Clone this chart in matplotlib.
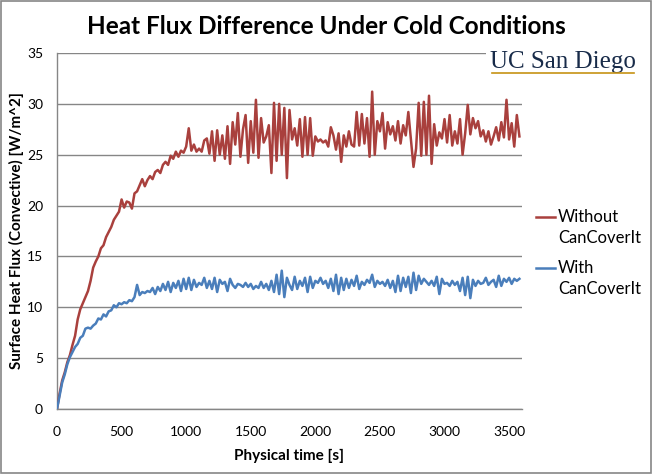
import numpy as np
import matplotlib
matplotlib.use("Agg")
import matplotlib.pyplot as plt
from matplotlib.lines import Line2D
from matplotlib.patches import Rectangle

# surface heat flux [W/m^2], one value every 20 s starting at t = 0
without_cover = [
    0, 1.5, 2.8, 3.6, 4.6, 5.3, 6.3, 7.2, 8.8, 9.8,
    10.4, 11.0, 11.6, 12.6, 13.9, 14.5, 15.0, 15.8, 16.1, 16.9,
    17.4, 17.9, 18.6, 19.0, 19.4, 20.6, 19.8, 20.4, 20.3, 19.7,
    21.2, 21.4, 22.0, 22.6, 21.9, 22.5, 22.9, 22.6, 23.3, 23.5,
    23.2, 24.0, 24.3, 24.0, 24.9, 24.6, 25.3, 24.8, 25.4, 25.2,
    25.8, 27.6, 25.4, 26.0, 25.3, 25.6, 25.3, 26.4, 26.6, 25.1,
    27.3, 24.4, 27.4, 25.0, 26.9, 24.6, 27.8, 24.1, 28.2, 26.0,
    29.1, 24.8, 27.5, 28.9, 24.2, 28.3, 25.2, 30.4, 24.7, 28.6,
    26.2, 26.8, 27.9, 23.2, 30.1, 24.4, 30.0, 25.0, 29.6, 22.7,
    29.4, 26.5, 27.6, 25.9, 28.5, 24.8, 28.7, 25.0, 28.6, 24.9,
    26.8, 26.3, 26.5, 26.2, 26.4, 25.8, 27.7, 26.9, 25.5, 27.1,
    24.3, 26.9, 25.8, 27.3, 26.0, 25.8, 29.2, 25.9, 29.0, 26.1,
    28.6, 24.8, 31.2, 25.0, 28.3, 27.3, 29.1, 25.6, 28.2, 27.0,
    27.8, 26.4, 28.3, 26.1, 27.9, 26.9, 29.2, 26.5, 23.8, 25.6,
    30.1, 24.9, 30.2, 25.0, 30.8, 24.1, 28.0, 25.9, 27.2, 26.6,
    28.5, 26.2, 28.9, 25.9, 27.3, 26.1, 28.5, 25.0, 27.1, 29.9,
    27.0, 28.6, 27.6, 28.3, 26.8, 27.4, 26.3, 27.3, 26.0, 26.8,
    27.7, 26.4, 28.2, 26.7, 30.4, 26.5, 28.1, 25.8, 28.9, 26.8,
]
with_cover = [
    0, 1.3, 2.6, 3.4, 4.4, 5.1, 5.6, 6.1, 6.4, 7.0,
    7.2, 7.9, 8.0, 7.9, 8.2, 8.4, 8.9, 8.8, 9.3, 9.1,
    9.6, 9.7, 10.2, 10.0, 10.4, 10.3, 10.5, 10.4, 10.7, 10.6,
    11.0, 12.2, 11.2, 11.5, 11.4, 11.6, 11.5, 11.9, 11.3, 12.0,
    11.6, 12.3, 11.7, 12.5, 11.5, 12.4, 11.9, 12.6, 11.6, 12.8,
    11.8, 12.9, 11.7, 12.7, 12.0, 12.4, 12.2, 12.9, 11.9, 12.6,
    11.8, 12.9, 11.5, 12.7, 12.3, 12.5, 11.6, 12.8, 12.2, 11.9,
    12.3, 12.2, 12.0, 12.4, 12.0, 12.3, 11.8, 12.1, 11.9, 12.5,
    11.9, 12.3, 11.7, 12.6, 11.5, 13.2, 11.3, 13.6, 11.0, 12.9,
    12.2, 11.7, 13.0, 11.8, 12.6, 12.1, 12.9, 11.5, 13.0, 11.9,
    12.6, 12.4, 12.9, 12.3, 12.6, 11.9, 12.8, 11.6, 13.2, 11.3,
    12.9, 11.7, 12.8, 11.9, 12.7, 12.1, 13.1, 11.8, 12.5, 12.2,
    12.7, 12.4, 13.2, 12.0, 12.6, 12.3, 12.5, 12.1, 12.7, 11.9,
    12.6, 11.5, 13.1, 11.6, 12.9, 12.0, 13.0, 11.4, 13.4, 11.7,
    13.1, 12.3, 12.8, 12.5, 12.2, 12.6, 12.1, 13.0, 11.3, 12.8,
    12.3, 12.4, 12.1, 12.6, 12.2, 12.5, 11.6, 12.9, 11.2, 13.0,
    10.9, 12.7, 12.1, 12.6, 12.3, 12.4, 12.9, 12.2, 12.5, 12.7,
    12.0, 13.1, 12.1, 12.8, 12.5, 12.9, 12.3, 12.8, 12.6, 12.8,
]
time_s = np.arange(len(without_cover)) * 20
series_names = [('Without', 'CanCoverIt'), ('With', 'CanCoverIt')]

plt.rcParams['font.family'] = ['Lato', 'DejaVu Sans']

W, H = 652, 474
fig = plt.figure(figsize=(W / 100, H / 100), dpi=100, facecolor='w')
ax = fig.add_axes([57 / W, 1 - 409 / H, (522 - 57) / W, (409 - 53) / H])

red = '#A9403D'
blue = '#4A7EBB'
grid_c = '#868686'

ax.plot(time_s, without_cover, color=red, lw=1.8, zorder=3)
ax.plot(time_s, with_cover, color=blue, lw=1.8, zorder=3)

ax.set_xlim(0, 3600)
ax.set_ylim(0, 35)
ax.set_xticks(np.arange(0, 3501, 500))
ax.set_yticks(np.arange(0, 36, 5))
ax.yaxis.grid(True, color=grid_c, lw=1)
ax.set_axisbelow(True)
for s in ['top', 'right']:
    ax.spines[s].set_visible(False)
for s in ['left', 'bottom']:
    ax.spines[s].set_color(grid_c)
    ax.spines[s].set_linewidth(1)
ax.tick_params(length=0, labelsize=10)
ax.tick_params(axis='x', pad=12)
ax.tick_params(axis='y', pad=10)

ax.set_xlabel('Physical time [s]', fontsize=11, fontweight='bold', labelpad=8)
ax.set_ylabel('Surface Heat Flux (Convective) [W/m^2]', fontsize=11, fontweight='bold', labelpad=2)

fig.text(0.5, 1 - 27 / H, 'Heat Flux Difference Under Cold Conditions', ha='center', va='center',
         fontsize=17.5, fontweight='bold')

# legend, handle aligned with the first text line like Excel does
for (first, second), col, y0 in zip(series_names, [red, blue], [217, 268]):
    fig.add_artist(Line2D([536 / W, 555 / W], [1 - y0 / H] * 2, color=col, lw=1.8))
    fig.text(558 / W, 1 - y0 / H, first, va='center', fontsize=12)
    fig.text(558 / W, 1 - (y0 + 21) / H, second, va='center', fontsize=12)

# logo
fig.text(563 / W, 1 - 68 / H, 'UC San Diego', ha='center', va='baseline', fontsize=18,
         family='Liberation Serif', color='#182B49', zorder=5,
         bbox=dict(facecolor='w', edgecolor='none', pad=3))
fig.add_artist(Line2D([492 / W, 634 / W], [1 - 73 / H] * 2, color='#C69214', lw=1.2, zorder=6))

# chart border
fig.add_artist(Rectangle((0.002, 0.002), 0.996, 0.996, transform=fig.transFigure,
                         fill=False, edgecolor=grid_c, lw=1.2))

fig.savefig('out.png', dpi=100)
